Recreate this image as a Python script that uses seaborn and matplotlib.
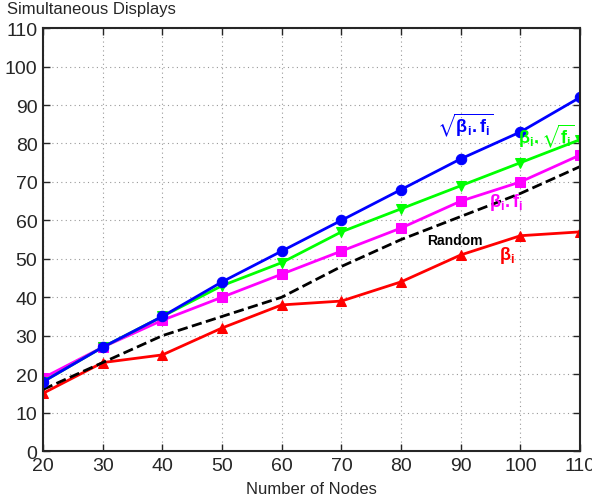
import matplotlib
matplotlib.use("Agg")
import matplotlib.pyplot as plt
import seaborn as sns
import pandas as pd

nodes = [20, 30, 40, 50, 60, 70, 80, 90, 100, 110]
sqrt_beta_f = [18, 27, 35, 44, 52, 60, 68, 76, 83, 92]
beta_sqrt_f = [18, 27, 35, 43, 49, 57, 63, 69, 75, 81]
beta_f = [19, 27, 34, 40, 46, 52, 58, 65, 70, 77]
random_vals = [16, 23, 30, 35, 40, 48, 55, 61, 67, 74]
beta = [15, 23, 25, 32, 38, 39, 44, 51, 56, 57]

sns.set_style("ticks")
plt.rcParams['font.family'] = ['Liberation Sans', 'DejaVu Sans']
plt.rcParams['mathtext.fontset'] = 'custom'
plt.rcParams['mathtext.rm'] = 'Liberation Sans'
plt.rcParams['mathtext.it'] = 'Liberation Sans'
plt.rcParams['mathtext.bf'] = 'Liberation Sans:bold'
plt.rcParams['mathtext.fallback'] = 'stixsans'

fig = plt.figure(figsize=(5.92, 5.02), dpi=100)
ax = fig.add_axes([0.0726, 0.0996, 0.9074, 0.8424])

series = [
    (beta, '#ff0000', '^', '-'),
    (random_vals, 'black', None, '--'),
    (beta_f, '#ff00ff', 's', '-'),
    (beta_sqrt_f, '#00ff00', 'v', '-'),
    (sqrt_beta_f, '#0000ff', 'o', '-'),
]
for vals, col, mk, ls in series:
    df = pd.DataFrame({'x': nodes, 'y': vals})
    sns.lineplot(data=df, x='x', y='y', ax=ax, color=col, marker=mk,
                 linestyle=ls, linewidth=2, markersize=7.5 if mk else 0,
                 markeredgecolor=col, markerfacecolor=col)

ax.set_xlim(20, 110)
ax.set_ylim(0, 110)
ax.set_xticks(range(20, 111, 10))
ax.set_yticks(range(0, 111, 10))
ax.grid(True, linestyle=(0, (1, 3)), color='#999999', linewidth=0.8)
ax.tick_params(direction='in', labelsize=14, length=5, width=1, pad=4,
               top=True, right=True, labeltop=False, labelright=False)
for s in ax.spines.values():
    s.set_linewidth(1.5)
    s.set_visible(True)
ax.set_xlabel('Number of Nodes', fontsize=12, labelpad=5)
ax.set_ylabel('')
fig.text(0.012, 0.966, 'Simultaneous Displays', fontsize=12, ha='left', va='bottom')

ax.text(90.7, 85, r'$\mathbf{\sqrt{\beta_i.f_i}}$', color='#0000ff', fontsize=13, ha='center', va='center')
ax.text(104.3, 82, r'$\mathbf{\beta_i.\sqrt{f_i}}$', color='#00ff00', fontsize=13, ha='center', va='center')
ax.text(97.6, 65, r'$\mathbf{\beta_i.f_i}$', color='#ff00ff', fontsize=13, ha='center', va='center')
ax.text(89.0, 55, 'Random', color='black', fontsize=10, fontweight='bold', ha='center', va='center')
ax.text(97.8, 51, r'$\mathbf{\beta_i}$', color='#ff0000', fontsize=13, ha='center', va='center')

fig.savefig('out.png', dpi=100)
